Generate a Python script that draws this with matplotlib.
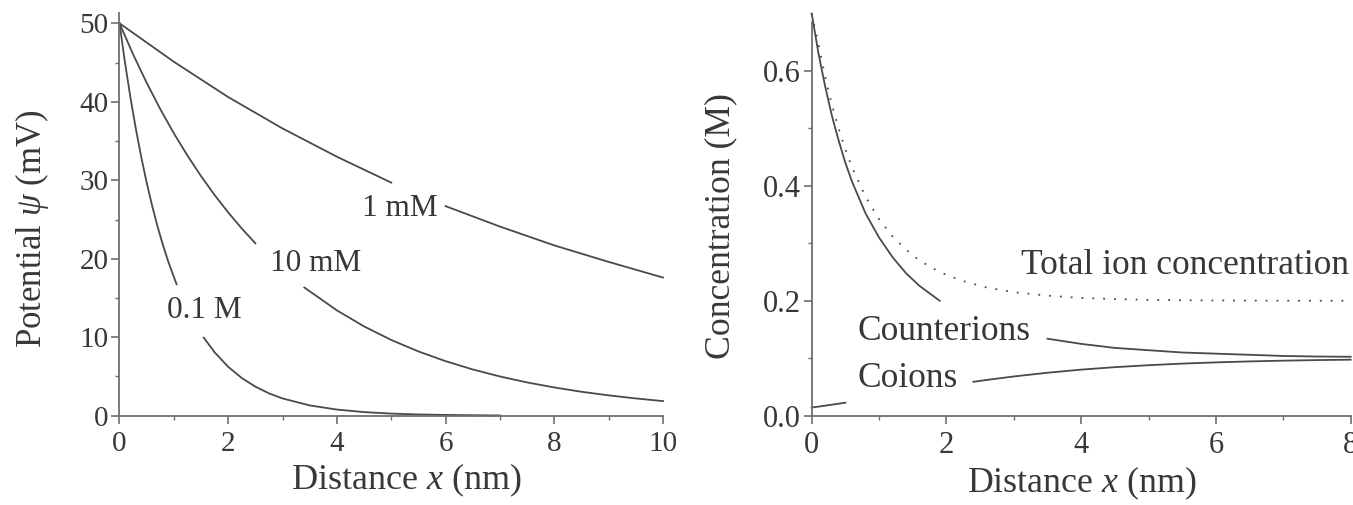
import matplotlib
matplotlib.use("Agg")
import matplotlib.pyplot as plt
from matplotlib.ticker import MultipleLocator, FormatStrFormatter

plt.rcParams['font.family'] = ['Liberation Serif', 'DejaVu Serif']
plt.rcParams['mathtext.fontset'] = 'custom'
plt.rcParams['mathtext.rm'] = 'Liberation Serif'
plt.rcParams['mathtext.it'] = 'Liberation Serif:italic'

# ---- left panel: potential vs distance (each curve split where the label sits)
x_1mM_a = [0, 1, 2, 3, 4, 5]
psi_1mM_a = [50, 45.1, 40.6, 36.6, 33.0, 29.7]
x_1mM_b = [6, 7, 8, 9, 10]
psi_1mM_b = [26.7, 24.1, 21.7, 19.6, 17.6]

x_10mM_a = [0, 0.25, 0.5, 0.75, 1, 1.25, 1.5, 1.75, 2, 2.25, 2.5]
psi_10mM_a = [50, 46.05, 42.42, 39.07, 35.98, 33.15, 30.53, 28.12, 25.90, 23.85, 21.97]
x_10mM_b = [3.4, 4, 4.5, 5, 5.5, 6, 6.5, 7, 7.5, 8, 8.5, 9, 9.5, 10]
psi_10mM_b = [16.34, 13.42, 11.38, 9.65, 8.19, 6.95, 5.89, 5.00, 4.24, 3.60, 3.05, 2.59, 2.20, 1.86]

x_01M_a = [0, 0.1, 0.2, 0.3, 0.4, 0.5, 0.6, 0.7, 0.8, 0.9, 1.05]
psi_01M_a = [50, 45.05, 40.60, 36.58, 32.96, 29.70, 26.76, 24.11, 21.73, 19.58, 16.75]
x_01M_b = [1.55, 1.75, 2, 2.25, 2.5, 2.75, 3, 3.5, 4, 4.5, 5, 5.5, 6, 6.5, 7]
psi_01M_b = [9.95, 8.08, 6.23, 4.80, 3.70, 2.85, 2.20, 1.31, 0.78, 0.46, 0.27, 0.16, 0.10, 0.06, 0.03]

left_labels = ["1 mM", "10 mM", "0.1 M"]
left_label_pos = [(4.46, 26.4), (2.77, 19.4), (0.88, 13.4)]

# ---- right panel: ion concentrations vs distance
x_counter_a = [0, 0.1, 0.2, 0.3, 0.4, 0.5, 0.6, 0.8, 1.0, 1.2, 1.4, 1.6, 1.9]
c_counter_a = [0.700, 0.631, 0.573, 0.522, 0.479, 0.440, 0.407, 0.352, 0.310, 0.276, 0.248, 0.226, 0.200]
x_counter_b = [3.5, 4.0, 4.5, 5.0, 5.5, 6.0, 6.5, 7.0, 7.5, 8.0]
c_counter_b = [0.134, 0.125, 0.118, 0.114, 0.110, 0.108, 0.106, 0.104, 0.103, 0.1026]

x_co_a = [0, 0.1, 0.2, 0.3, 0.4, 0.5]
c_co_a = [0.0143, 0.0158, 0.0175, 0.0192, 0.0209, 0.0227]
x_co_b = [2.4, 2.6, 3.0, 3.5, 4.0, 4.5, 5.0, 5.5, 6.0, 6.5, 7.0, 7.5, 8.0]
c_co_b = [0.0590, 0.0623, 0.0683, 0.0748, 0.0802, 0.0845, 0.0879, 0.0907, 0.0928, 0.0945, 0.0958, 0.0968, 0.0975]

x_total = [0, 0.1, 0.2, 0.3, 0.4, 0.5, 0.6, 0.8, 1.0, 1.2, 1.4, 1.6, 1.9, 2.2, 2.6,
           3.0, 3.5, 4.0, 4.5, 5.0, 5.5, 6.0, 6.5, 7.0, 7.5, 8.0]
c_total = [0.700, 0.647, 0.590, 0.541, 0.500, 0.463, 0.432, 0.381, 0.342, 0.312, 0.289,
           0.270, 0.250, 0.236, 0.223, 0.215, 0.209, 0.205, 0.203, 0.2016, 0.201, 0.2006,
           0.2003, 0.2002, 0.2001, 0.2001]

right_labels = ["Total ion concentration", "Counterions", "Coions"]
right_label_pos = [(7.97, 0.2606), (0.684, 0.147), (0.684, 0.0656)]

W, H = 1353, 505
fig = plt.figure(figsize=(W / 100, H / 100), dpi=100)
ax1 = fig.add_axes([0.08832, 0.17683, 0.40170, 0.79723])
ax2 = fig.add_axes([0.59993, 0.17683, 0.39837, 0.78040])

line_c = '#4a4a4a'
text_c = '#383838'
spine_c = '#6e6e6e'

for xs, ys in [(x_1mM_a, psi_1mM_a), (x_1mM_b, psi_1mM_b),
               (x_10mM_a, psi_10mM_a), (x_10mM_b, psi_10mM_b),
               (x_01M_a, psi_01M_a), (x_01M_b, psi_01M_b)]:
    ax1.plot(xs, ys, color=line_c, lw=1.3, clip_on=False)

for lab, (tx, ty) in zip(left_labels, left_label_pos):
    ax1.text(tx, ty, lab, fontsize=22.5, color=text_c, ha='left', va='center')

ax1.set_xlim(0, 10)
ax1.set_ylim(0, 51.3)
ax1.xaxis.set_major_locator(MultipleLocator(2))
ax1.xaxis.set_minor_locator(MultipleLocator(1))
ax1.yaxis.set_major_locator(MultipleLocator(10))
ax1.yaxis.set_minor_locator(MultipleLocator(5))

for xs, ys in [(x_counter_a, c_counter_a), (x_counter_b, c_counter_b),
               (x_co_a, c_co_a), (x_co_b, c_co_b)]:
    ax2.plot(xs, ys, color=line_c, lw=1.3, clip_on=False)
ax2.plot(x_total, c_total, color=line_c, lw=1.3, linestyle=(0, (1, 5)), clip_on=False)

ax2.text(right_label_pos[0][0], right_label_pos[0][1], right_labels[0], fontsize=25.5,
         color=text_c, ha='right', va='center')
for lab, (tx, ty) in zip(right_labels[1:], right_label_pos[1:]):
    ax2.text(tx, ty, lab, fontsize=25.5, color=text_c, ha='left', va='center')

ax2.set_xlim(0, 8)
ax2.set_ylim(0, 0.686)
ax2.xaxis.set_major_locator(MultipleLocator(2))
ax2.xaxis.set_minor_locator(MultipleLocator(1))
ax2.yaxis.set_major_locator(MultipleLocator(0.2))
ax2.yaxis.set_minor_locator(MultipleLocator(0.1))
ax2.yaxis.set_major_formatter(FormatStrFormatter('%.1f'))

for ax, fs in [(ax1, 21), (ax2, 22)]:
    ax.spines['top'].set_visible(False)
    ax.spines['right'].set_visible(False)
    for s in ['left', 'bottom']:
        ax.spines[s].set_color(spine_c)
        ax.spines[s].set_linewidth(1.3)
    ax.tick_params(which='major', direction='out', length=6, width=1.2, color=spine_c,
                   labelsize=fs, labelcolor=text_c, pad=2)
    ax.tick_params(axis='x', which='major', pad=5)
    ax.tick_params(which='minor', direction='out', length=3, width=1.0, color=spine_c)
    ax.patch.set_alpha(0)

# axis titles placed by pixel centres
fig.text(406.6 / W, 1 - 480 / H, "Distance $x$ (nm)", fontsize=26, color=text_c,
         ha='center', va='center')
fig.text(32 / W, 1 - 228.5 / H, r"Potential $\psi$ (mV)", fontsize=25, color=text_c,
         ha='center', va='center', rotation=90)
fig.text(1082 / W, 1 - 483 / H, "Distance $x$ (nm)", fontsize=25.8, color=text_c,
         ha='center', va='center')
fig.text(721 / W, 1 - 226 / H, "Concentration (M)", fontsize=25.7, color=text_c,
         ha='center', va='center', rotation=90)

fig.savefig("out.png", dpi=100)
